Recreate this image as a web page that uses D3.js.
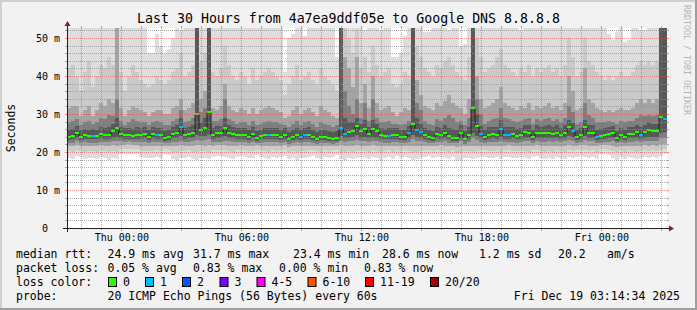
<!DOCTYPE html>
<html>
<head>
<meta charset="utf-8">
<script src="https://cdn.jsdelivr.net/npm/d3@7"></script>
<style>
  body { margin: 0; background: #f2f2f2; }
  svg { display: block; }
  text { font-family: "DejaVu Sans Mono", monospace; fill: #000; }
</style>
</head>
<body>
<div id="chart"></div>
<script>
// ---- data: one value per 12 minute bin, 150 bins (30 hours), in ms ----
const median = [
  24.0,24.1,25.1,24.0,24.4,24.1,24.1,24.1,24.8,24.6, 24.6,25.4,26.4,24.8,24.5,24.5,24.1,24.6,24.4,24.8,
  24.0,24.8,24.4,24.4,23.8,23.9,24.8,25.1,26.6,24.6, 24.8,25.1,30.1,25.9,26.4,30.6,24.6,24.9,24.9,26.4,
  25.1,24.8,24.5,24.6,24.6,24.0,24.8,23.8,24.1,24.5, 24.5,24.4,24.4,24.0,24.4,23.5,24.0,24.5,23.9,24.4,
  24.6,23.9,23.4,24.0,24.0,23.8,23.5,23.8,26.4,24.8, 25.3,25.5,26.9,25.4,26.1,24.8,26.1,25.4,24.5,24.3,
  24.3,24.4,24.5,23.9,24.0,24.9,27.4,25.9,25.2,24.5, 24.0,23.8,24.8,24.6,25.1,24.3,23.8,23.8,25.1,23.5,
  24.6,31.7,26.9,24.8,24.0,24.6,24.8,24.6,26.1,24.6, 24.6,24.8,24.3,24.6,25.2,25.1,24.0,25.1,24.9,24.9,
  25.1,24.8,25.1,24.6,25.1,26.7,25.6,24.0,24.6,26.7, 25.1,25.1,24.0,24.3,24.6,24.8,25.1,23.8,24.6,24.0,
  24.8,24.8,25.3,24.6,25.3,25.9,25.6,25.6,29.1,28.6
];
// lost pings per bin (of 20)
const loss = [
  0,0,0,0,0,0,1,0,0,0, 0,0,0,0,0,0,0,0,0,0, 0,0,1,0,0,0,0,0,1,0,
  0,0,0,0,0,0,0,0,0,0, 0,0,0,0,0,0,0,0,0,0, 1,0,0,0,0,0,0,0,1,1,
  0,0,0,0,0,0,0,0,1,1, 0,0,0,0,0,0,0,0,0,0, 1,0,0,0,0,1,0,1,1,0,
  0,0,0,0,0,0,0,0,0,0, 0,0,0,1,0,0,0,0,1,1, 1,0,0,0,0,0,0,0,0,0,
  0,0,0,0,0,0,1,0,0,0, 0,0,1,0,0,0,0,0,0,0, 0,0,0,1,0,0,0,0,0,1
];
// sorted ping values (smoke), ping1 = fastest, ping20 = slowest
const ping1 = [
  18.3,18.2,18.9,18.6,18.1,18.3,18.5,18.2,18.6,18.4, 18.0,18.4,18.1,19.4,19.6,19.5,19.6,19.4,18.8,18.3,
  18.5,18.3,18.6,18.5,19.5,19.3,18.1,18.0,18.3,18.4, 18.6,18.2,18.0,18.5,18.3,18.1,18.7,18.9,19.0,18.6,
  18.4,18.2,18.6,19.0,18.7,18.3,18.5,19.2,18.7,18.5, 18.2,18.6,18.4,18.8,19.0,18.2,18.4,18.0,18.5,18.3,
  18.6,18.9,18.5,18.2,18.6,18.4,18.8,19.1,18.2,18.0, 18.4,18.1,18.3,18.7,18.5,18.2,18.6,18.4,17.9,18.3,
  18.6,18.2,18.9,18.4,18.7,18.5,17.8,18.1,18.4,18.7, 18.9,18.3,18.6,18.8,18.4,18.2,18.6,17.7,18.0,18.5,
  18.3,18.1,18.4,18.6,18.8,18.5,18.4,18.7,18.2,18.6, 18.8,18.3,18.5,18.7,18.4,18.2,18.6,18.9,18.4,18.1,
  18.5,18.2,18.7,18.4,18.2,18.6,18.3,18.8,19.0,18.6, 18.4,18.6,18.2,19.6,19.5,19.2,18.5,18.0,18.7,18.2,
  18.6,18.4,18.2,18.5,18.7,18.3,18.6,18.4,19.0,19.4
];
const ping2 = [
  20.2,20.1,20.5,20.3,20.0,20.2,20.3,20.1,20.4,20.3, 20.0,20.3,20.1,20.7,20.8,20.8,20.8,20.7,20.4,20.2,
  20.3,20.2,20.4,20.3,20.7,20.6,20.1,20.0,20.2,20.3, 20.4,20.1,20.0,20.3,20.2,20.0,20.4,20.5,20.6,20.4,
  20.3,20.1,20.4,20.6,20.4,20.2,20.3,20.6,20.4,20.3, 20.1,20.4,20.3,20.5,20.6,20.1,20.3,20.0,20.3,20.2,
  20.4,20.5,20.3,20.1,20.4,20.3,20.5,20.6,20.1,20.0, 20.3,20.0,20.2,20.4,20.3,20.1,20.4,20.3,19.9,20.2,
  20.4,20.1,20.5,20.3,20.4,20.3,19.8,20.0,20.3,20.4, 20.5,20.2,20.4,20.5,20.3,20.1,20.4,19.8,20.0,20.3,
  20.2,20.0,20.3,20.4,20.5,20.3,20.3,20.4,20.1,20.4, 20.5,20.2,20.3,20.4,20.3,20.1,20.4,20.5,20.3,20.0,
  20.3,20.1,20.4,20.3,20.1,20.4,20.2,20.5,20.6,20.4, 20.3,20.4,20.1,20.8,20.8,20.6,20.3,20.0,20.4,20.1,
  20.4,20.3,20.1,20.3,20.4,20.2,20.4,20.3,20.6,20.8
];
const ping4 = [
  21.6,21.5,21.9,21.6,21.6,21.5,21.6,21.5,21.8,21.7, 21.6,21.8,21.7,21.9,21.9,22.0,21.9,21.8,21.7,21.7,
  21.6,21.7,21.7,21.6,21.7,21.7,21.6,21.6,21.8,21.7, 21.7,21.6,21.8,21.8,21.7,21.9,21.7,21.8,21.8,21.8,
  21.7,21.6,21.7,21.8,21.7,21.6,21.7,21.8,21.7,21.6, 21.6,21.7,21.7,21.7,21.8,21.4,21.6,21.5,21.6,21.6,
  21.7,21.7,21.5,21.5,21.7,21.6,21.6,21.7,21.8,21.6, 21.7,21.6,21.8,21.7,21.7,21.6,21.8,21.7,21.5,21.5,
  21.7,21.5,21.7,21.6,21.7,21.7,21.6,21.6,21.7,21.7, 21.7,21.5,21.7,21.8,21.7,21.5,21.6,21.3,21.5,21.5,
  21.6,21.7,21.7,21.7,21.7,21.6,21.6,21.7,21.6,21.7, 21.8,21.6,21.6,21.7,21.7,21.5,21.6,21.8,21.6,21.5,
  21.7,21.6,21.7,21.6,21.6,21.8,21.6,21.7,21.8,21.8, 21.7,21.7,21.5,21.9,21.9,21.8,21.7,21.4,21.7,21.5,
  21.7,21.6,21.6,21.7,21.8,21.7,21.8,21.7,22.0,22.1
];
const ping6 = [
  22.5,22.5,22.8,22.5,22.6,22.5,22.5,22.5,22.7,22.6, 22.6,22.8,22.9,22.8,22.7,22.8,22.7,22.7,22.6,22.7,
  22.5,22.7,22.6,22.6,22.4,22.5,22.7,22.7,23.0,22.6, 22.7,22.8,23.2,23.0,23.1,23.3,22.6,22.7,22.7,23.0,
  22.8,22.7,22.6,22.6,22.6,22.5,22.7,22.4,22.5,22.6, 22.6,22.6,22.6,22.5,22.6,22.2,22.5,22.6,22.4,22.6,
  22.7,22.4,22.2,22.5,22.5,22.4,22.2,22.4,23.0,22.7, 22.9,22.9,23.2,22.9,23.0,22.7,23.0,22.9,22.6,22.5,
  22.5,22.6,22.6,22.4,22.5,22.7,23.3,23.0,22.8,22.6, 22.5,22.4,22.7,22.7,22.8,22.5,22.4,22.3,22.8,22.2,
  22.6,23.6,23.1,22.7,22.5,22.6,22.7,22.6,23.0,22.7, 22.7,22.7,22.5,22.6,22.8,22.8,22.5,22.8,22.7,22.7,
  22.8,22.7,22.8,22.6,22.8,23.1,22.9,22.5,22.6,23.1, 22.8,22.8,22.5,22.5,22.6,22.7,22.8,22.3,22.6,22.5,
  22.7,22.7,22.9,22.6,22.9,23.0,22.9,22.9,23.6,23.7
];
const ping8 = [
  23.2,23.3,23.6,23.2,23.4,23.3,23.3,23.3,23.6,23.5, 23.5,23.8,24.0,23.6,23.4,23.4,23.3,23.5,23.4,23.6,
  23.2,23.6,23.4,23.4,23.0,23.1,23.6,23.7,24.2,23.5, 23.6,23.7,24.6,24.2,24.3,24.8,23.5,23.7,23.7,24.2,
  23.7,23.6,23.4,23.5,23.5,23.2,23.6,23.0,23.3,23.4, 23.4,23.4,23.4,23.2,23.4,22.8,23.2,23.4,23.1,23.4,
  23.5,23.1,22.8,23.2,23.2,23.0,22.8,23.0,24.2,23.6, 23.8,23.9,24.4,23.8,24.0,23.6,24.0,23.8,23.4,23.3,
  23.3,23.4,23.4,23.1,23.2,23.6,24.5,24.0,23.8,23.4, 23.2,23.0,23.6,23.5,23.7,23.3,23.0,23.0,23.7,22.8,
  23.5,25.0,24.3,23.6,23.2,23.5,23.6,23.5,24.0,23.5, 23.5,23.6,23.3,23.5,23.8,23.7,23.2,23.7,23.6,23.6,
  23.7,23.6,23.7,23.5,23.7,24.2,23.9,23.2,23.5,24.2, 23.7,23.7,23.2,23.3,23.5,23.6,23.7,23.0,23.5,23.2,
  23.6,23.6,23.8,23.5,23.8,24.0,23.9,23.9,25.0,25.2
];
const ping13 = [
  25.8,26.0,26.8,25.8,26.1,25.9,26.0,25.9,26.6,26.4, 26.5,27.3,29.0,26.6,26.2,26.3,26.0,26.5,26.2,26.6,
  25.8,26.6,26.3,26.2,25.6,25.7,26.6,27.0,29.0,26.4, 26.6,27.2,60.0,28.0,29.0,60.0,26.4,26.8,26.8,29.0,
  27.0,26.6,26.3,26.4,26.4,25.8,26.6,25.6,25.9,26.3, 26.4,26.2,26.2,25.8,26.2,25.3,25.8,26.4,25.8,26.3,
  26.5,25.7,25.3,25.8,25.8,25.6,25.3,25.6,60.0,29.0, 28.0,28.0,29.0,27.3,28.5,26.6,28.5,27.3,26.3,26.1,
  26.2,26.2,26.3,25.7,25.8,26.8,60.0,29.0,27.5,26.3, 25.8,25.6,26.6,26.4,27.0,26.4,26.0,25.8,27.0,25.4,
  26.5,60.0,30.0,26.8,25.8,26.5,26.7,26.5,28.5,26.6, 26.5,26.6,26.1,26.4,27.1,27.0,25.8,27.0,26.7,26.8,
  27.0,26.6,27.0,26.4,27.0,28.5,27.6,25.8,26.4,28.5, 27.0,27.0,25.9,26.1,26.4,26.6,26.9,25.6,26.4,25.8,
  26.6,26.6,27.2,26.5,27.2,27.8,27.5,27.5,60.0,60.0
];
const ping15 = [
  27.8,28.2,28.7,27.0,27.8,28.2,27.4,27.8,29.0,28.6, 29.8,29.5,34.0,28.2,27.0,27.8,28.6,28.2,27.8,27.8,
  27.0,27.8,28.2,27.8,27.0,27.0,28.2,28.6,31.0,27.8, 28.2,29.0,60.0,30.5,31.5,60.0,28.2,28.2,28.6,34.0,
  28.6,28.2,27.4,27.8,27.8,27.0,28.2,27.0,27.4,27.8, 28.2,27.8,27.8,27.4,27.0,26.6,27.4,28.2,27.0,27.8,
  28.2,27.4,26.6,27.8,27.4,27.0,26.6,27.0,60.0,36.0, 32.0,30.0,34.0,29.0,33.0,28.2,34.0,29.0,27.8,27.8,
  28.2,27.4,27.4,27.0,27.4,28.2,60.0,33.0,31.0,28.2, 27.4,27.0,28.6,28.2,29.0,29.8,29.0,27.8,28.2,27.0,
  29.0,60.0,34.0,30.0,27.4,28.2,28.6,29.0,31.5,29.0, 28.6,28.2,27.8,28.2,28.6,29.0,27.4,28.6,28.2,28.6,
  29.0,28.2,28.6,27.8,29.0,32.0,30.5,27.4,27.8,33.0, 29.8,29.0,27.8,27.8,27.8,28.2,27.8,27.4,28.2,27.8,
  28.2,28.2,29.0,29.8,29.4,29.8,29.4,29.8,60.0,60.0
];
const ping17 = [
  31.5,32,32,29.5,31,32,29.5,31,33,32, 34,33,60,31.5,29.5,31,32,31.5,31,30.5,
  29.5,30.5,31,31,30,30,31.5,32,34,31, 31.5,33,60,34,36,60,31.5,31,32,38,
  32,31,30.5,31.5,31,30,31.5,30,31,31.5, 32,31.5,31,30.5,29,29.5,31,32,30,31,
  31.5,30.5,29.5,32,31,30.5,29.5,29,60,45, 42,37,45,33,38,31.5,40,33,31,31.5,
  32,30.5,29.5,30.5,31.5,31,60,39,35,32, 31.5,31,33,32,33.5,35,33,32,31.5,30,
  34,60,40,34,31.5,32,33,34,37,33, 32,31.5,31,32,31.5,33,31,32,31.5,32,
  33,31.5,32,31,33,40,36,31,31.5,42, 34,33,31.5,31,30.5,31,30.5,31,31.5,31,
  31,31.5,33,34,33,34,33,34,60,60
];
const ping19 = [
  42,43,40,36,41,44,37,40,43,42, 45,43,50,41,36,40,43,41,39,38,
  37,38,40,39,38,39,41,42,46,40, 41,43,60,44,46,60,41,40,42,48,
  43,40,39,41,40,38,42,39,40,41, 42,41,40,39,35,38,40,43,39,40,
  41,39,38,42,40,39,38,36,60,55, 50,46,52,42,45,41,48,43,40,41,
  42,38,37,38,41,40,60,48,45,42, 41,40,43,42,44,45,43,41,40,39,
  45,60,50,45,41,42,43,45,47,43, 42,41,40,42,41,43,40,42,41,42,
  43,41,42,40,43,50,45,40,41,50, 44,43,41,40,39,40,39,40,41,40,
  40,41,43,44,43,44,43,44,60,60
];
const ping20 = [
  60,60,60,60,60,60,60,60,60,60, 60,60,60,60,60,60,60,60,60,60,
  46,46,51,48,46,47,50,60,52,60, 60,60,60,60,60,60,60,60,60,60,
  60,60,60,60,60,60,60,60,60,60, 60,60,60,60,41,50,51,60,60,50.5,
  60,60,60,60,60,60,60,45,60,60, 60,60,60,60,52,60,60,60,52,60,
  60,45,45,46,50.4,60,60,60,60,51.7, 51.7,60,60,60,60,52,60,60,48,48.5,
  60,60,60,60,60,60,60,60,60,60, 60,60,60,52,60,60,60,60,60,60,
  60,60,60,60,60,60,60,60,60,60, 60,60,60,60,60,51,49.5,51.5,60,49,
  49.5,60,60,52,52,60,60,60,60,60
];

const yTicks = [0, 10, 20, 30, 40, 50];
const yTickLabels = ["0  ", "10 m", "20 m", "30 m", "40 m", "50 m"];
const lossLabels = ["0", "1", "2", "3", "4-5", "6-10", "11-19", "20/20"];
const lossColors = ["#26ff00", "#00b8ff", "#0059ff", "#7e00ff", "#ff00ff", "#ff5500", "#ff0000", "#a10000"];
const lossLimits = [0, 1, 2, 3, 5, 10, 19, 20];

const width = 697, height = 310;
const plot = {left: 67, top: 28, width: 600, height: 200};
const start = Date.UTC(2025, 11, 17, 21, 17);
const stepMs = 12 * 60 * 1000;
const binTime = i => new Date(start + i * stepMs);

const x = d3.scaleUtc()
    .domain([new Date(start), new Date(start + 30 * 3600 * 1000)])
    .range([plot.left, plot.left + plot.width]);
const y = d3.scaleLinear()
    .domain([0, plot.height / 3.8])
    .range([plot.top + plot.height, plot.top]);

const svg = d3.select("#chart").append("svg")
    .attr("width", width)
    .attr("height", height);

// background + 3d frame
svg.append("rect").attr("width", width).attr("height", height).attr("fill", "#f2f2f2");
svg.append("path").attr("d", `M0,0H${width}V2H2V${height}H0Z`).attr("fill", "#cfcfcf");
svg.append("path").attr("d", `M${width},${height}H0V${height - 2}H${width - 2}V0H${width}Z`).attr("fill", "#9e9e9e");

svg.append("rect")
    .attr("x", plot.left).attr("y", plot.top)
    .attr("width", plot.width).attr("height", plot.height)
    .attr("fill", "#ffffff");

svg.append("clipPath").attr("id", "plotClip")
    .append("rect")
    .attr("x", plot.left).attr("y", plot.top)
    .attr("width", plot.width).attr("height", plot.height);

// smoke: pairs of sorted pings, outer pair lightest
const bands = [
    {lo: ping1, hi: ping20, color: "#dddddd"},
    {lo: ping2, hi: ping19, color: "#cacaca"},
    {lo: ping4, hi: ping17, color: "#a4a4a4"},
    {lo: ping6, hi: ping15, color: "#7e7e7e"},
    {lo: ping8, hi: ping13, color: "#585858"}
];

const gSmoke = svg.append("g")
    .attr("clip-path", "url(#plotClip)")
    .attr("shape-rendering", "crispEdges");

bands.forEach(band => {
    gSmoke.append("g")
        .attr("fill", band.color)
        .selectAll("rect")
        .data(median.map((m, i) => i))
        .enter().append("rect")
        .attr("x", i => x(binTime(i)))
        .attr("width", i => x(binTime(i + 1)) - x(binTime(i)))
        .attr("y", i => y(band.hi[i]))
        .attr("height", i => y(band.lo[i]) - y(band.hi[i]));
});

// median step line
const medPoints = median.map((m, i) => [binTime(i), m]);
medPoints.push([binTime(median.length), median[median.length - 1]]);
svg.append("path")
    .datum(medPoints)
    .attr("fill", "none")
    .attr("stroke", "#202020")
    .attr("stroke-width", 1)
    .attr("d", d3.line()
        .x(d => x(d[0]))
        .y(d => Math.round(y(d[1])) + 0.5)
        .curve(d3.curveStepAfter));

// loss coloured median marks
const lossIndex = n => lossLimits.findIndex(l => n <= l);
const sw = 1;
svg.append("g")
    .attr("shape-rendering", "crispEdges")
    .selectAll("rect")
    .data(median.map((m, i) => i))
    .enter().append("rect")
    .attr("x", i => x(binTime(i)))
    .attr("width", i => x(binTime(i + 1)) - x(binTime(i)))
    .attr("y", i => Math.round(y(median[i])) - sw)
    .attr("height", 2 * sw)
    .attr("fill", i => lossColors[lossIndex(loss[i])]);

// grid
const gridMinor = "rgba(143,143,143,0.75)";
const gridMajor = "rgba(222,79,79,0.6)";
const yBottom = plot.top + plot.height, xRight = plot.left + plot.width;
const gGrid = svg.append("g").attr("shape-rendering", "crispEdges");

d3.range(2, 53, 2).forEach(v => {
    const yy = Math.round(y(v)) + 0.5;
    const major = v % 10 === 0;
    const c = major ? gridMajor : gridMinor;
    gGrid.append("line")
        .attr("x1", plot.left + 1).attr("x2", xRight).attr("y1", yy).attr("y2", yy)
        .attr("stroke", c).attr("stroke-dasharray", "1,1");
    gGrid.append("line").attr("x1", plot.left - 2).attr("x2", plot.left).attr("y1", yy).attr("y2", yy).attr("stroke", c);
    gGrid.append("line").attr("x1", xRight).attr("x2", xRight + 2).attr("y1", yy).attr("y2", yy).attr("stroke", c);
});

x.ticks(d3.utcHour.every(1)).forEach(t => {
    const xx = Math.round(x(t)) + 0.5;
    if (xx <= plot.left + 1) return;
    const major = t.getUTCHours() % 3 === 0;
    const c = major ? gridMajor : gridMinor;
    gGrid.append("line")
        .attr("x1", xx).attr("x2", xx).attr("y1", yBottom - 1).attr("y2", plot.top)
        .attr("stroke", c).attr("stroke-dasharray", "1,1");
    gGrid.append("line").attr("x1", xx).attr("x2", xx).attr("y1", yBottom).attr("y2", yBottom + (major ? 3 : 2)).attr("stroke", c);
    gGrid.append("line").attr("x1", xx).attr("x2", xx).attr("y1", plot.top - 2).attr("y2", plot.top).attr("stroke", c);
});

// axes lines + arrows
svg.append("line")
    .attr("x1", plot.left - 4).attr("x2", xRight + 4)
    .attr("y1", yBottom + 0.5).attr("y2", yBottom + 0.5)
    .attr("stroke", "#1f1f1f");
svg.append("line")
    .attr("x1", plot.left + 0.5).attr("x2", plot.left + 0.5)
    .attr("y1", yBottom + 4).attr("y2", plot.top - 4)
    .attr("stroke", "#1f1f1f");
svg.append("path")
    .attr("d", `M${xRight + 2},${yBottom - 2.5}L${xRight + 2},${yBottom + 3.5}L${xRight + 7},${yBottom + 0.5}Z`)
    .attr("fill", "#7f1f1f");
svg.append("path")
    .attr("d", `M${plot.left - 2.5},${plot.top - 2}L${plot.left + 3.5},${plot.top - 2}L${plot.left + 0.5},${plot.top - 7}Z`)
    .attr("fill", "#7f1f1f");

// axis labels
const xAxis = d3.axisBottom(x)
    .ticks(d3.utcHour.every(6))
    .tickFormat(d3.utcFormat("%a %H:%M"))
    .tickSize(0)
    .tickPadding(0);
const gX = svg.append("g")
    .attr("transform", `translate(0,${yBottom})`)
    .call(xAxis);
gX.select(".domain").remove();
gX.selectAll("text")
    .attr("dy", null)
    .attr("y", 13)
    .style("font-family", '"DejaVu Sans Mono", monospace')
    .style("font-size", "10px")
    .attr("fill", "#000");

const yAxis = d3.axisLeft(y)
    .tickValues(yTicks)
    .tickFormat((d, i) => yTickLabels[i])
    .tickSize(0)
    .tickPadding(0);
const gY = svg.append("g")
    .attr("transform", `translate(${plot.left - 7},0)`)
    .call(yAxis);
gY.select(".domain").remove();
gY.selectAll("text")
    .attr("dy", "0.35em")
    .attr("xml:space", "preserve")
    .style("white-space", "pre")
    .style("font-family", '"DejaVu Sans Mono", monospace')
    .style("font-size", "10px")
    .attr("fill", "#000");

// title, y label, watermark
svg.append("text")
    .attr("x", width / 2).attr("y", 23)
    .attr("text-anchor", "middle")
    .style("font-size", "13.25px")
    .text("Last 30 Hours from 4a7ea9ddf05e to Google DNS 8.8.8.8");

svg.append("text")
    .attr("transform", "translate(15,128) rotate(-90)")
    .attr("text-anchor", "middle")
    .style("font-size", "11.5px")
    .text("Seconds");

svg.append("text")
    .attr("transform", "translate(684,5) rotate(90)")
    .style("font-size", "8.3px")
    .style("fill", "#b4b4b4")
    .text("RRDTOOL / TOBI OETIKER");

// legend
const legendFont = "11.5px";
const legendLines = [
    {y: 258, items: [[16, "median rtt:"], [107.5, "24.9 ms avg"], [193, "31.7 ms max"], [293, "23.4 ms min"],
        [382, "28.6 ms now"], [479, "1.2 ms sd"], [558, "20.2"], [607, "am/s"]]},
    {y: 272, items: [[16, "packet loss:"], [107.5, "0.05 % avg"], [193, "0.83 % max"], [279, "0.00 % min"], [364, "0.83 % now"]]},
    {y: 286, items: [[16, "loss color:"]]},
    {y: 300, items: [[16, "probe:"], [107.5, "20 ICMP Echo Pings (56 Bytes) every 60s"]]}
];
const gLegend = svg.append("g").style("font-size", legendFont);
legendLines.forEach(line => {
    line.items.forEach(([lx, txt]) => {
        gLegend.append("text").attr("x", lx).attr("y", line.y).text(txt);
    });
});
gLegend.append("text")
    .attr("x", 680).attr("y", 300)
    .attr("text-anchor", "end")
    .text("Fri Dec 19 03:14:34 2025");

const boxX = [108, 145, 182, 219.5, 256.5, 307.5, 365, 430];
lossLabels.forEach((lab, i) => {
    gLegend.append("rect")
        .attr("x", boxX[i] + 0.5).attr("y", 277.5)
        .attr("width", 8).attr("height", 9)
        .attr("fill", lossColors[i])
        .attr("stroke", "#000").attr("stroke-width", 1);
    gLegend.append("text").attr("x", boxX[i] + 15).attr("y", 286).text(lab);
});
</script>
</body>
</html>
